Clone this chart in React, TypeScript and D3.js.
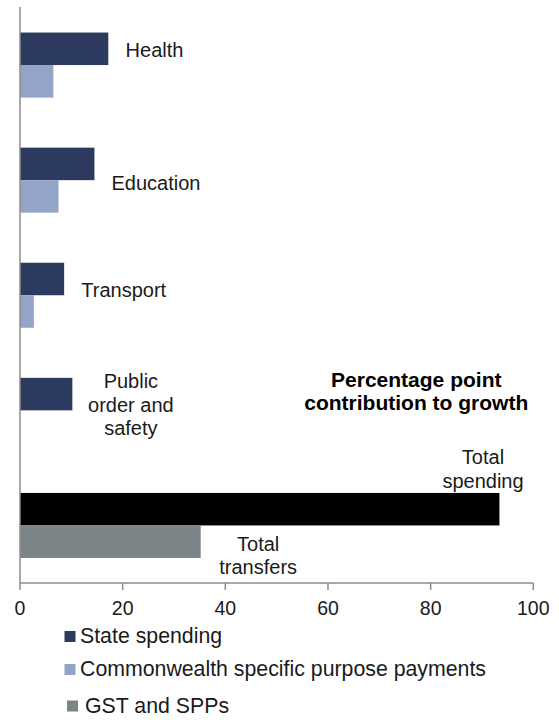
import React from "react";
import * as d3 from "d3";

const categories = ["Health", "Education", "Transport", "Public order and safety", "Total"];
const stateSpending = [17.2, 14.5, 8.6, 10.2, 93.4];
const commonwealthSPP = [6.5, 7.5, 2.7, 0, 35.2];
const xTicks = [0, 20, 40, 60, 80, 100];
const legendItems = ["State spending", "Commonwealth specific purpose payments", "GST and SPPs"];

const W = 559;
const H = 720;
const FONT = "'Liberation Sans', Arial, sans-serif";
const TEXT = "#1a1a1a";
const DARK = "#2b3a5e";
const LIGHT = "#94a3c8";
const GREY = "#7b8486";
const AXIS = "#8c8c8c";

export default function App() {
  const x = d3.scaleLinear().domain([0, 100]).range([20, 533.3]);
  const y = d3
    .scaleBand<string>()
    .domain(categories)
    .range([7.5, 583])
    .paddingInner(0.435)
    .paddingOuter(0.2175);
  const sub = d3.scaleBand<number>().domain([0, 1]).range([0, y.bandwidth()]);

  const bars: { key: string; x0: number; x1: number; y0: number; h: number; fill: string }[] = [];
  categories.forEach((c, i) => {
    const isTotal = c === "Total";
    const b = y(c) as number;
    const s = stateSpending[i];
    const cw = commonwealthSPP[i];
    bars.push({ key: c + "-s", x0: x(0), x1: x(s), y0: b + (sub(0) as number), h: sub.bandwidth(), fill: isTotal ? "#000000" : DARK });
    if (cw > 0)
      bars.push({ key: c + "-c", x0: x(0), x1: x(cw), y0: b + (sub(1) as number), h: sub.bandwidth(), fill: isTotal ? GREY : LIGHT });
  });

  const by = (c: string) => y(c) as number;

  const labels: { lines: string[]; xv: number; yOff: number; cat: string; bold?: boolean; size: number }[] = [
    { lines: ["Health"], xv: 26.2, yOff: 24.8, cat: "Health", size: 20 },
    { lines: ["Education"], xv: 26.5, yOff: 42.5, cat: "Education", size: 20 },
    { lines: ["Transport"], xv: 20.2, yOff: 34, cat: "Transport", size: 20 },
    { lines: ["Public", "order and", "safety"], xv: 21.6, yOff: 10.5, cat: "Public order and safety", size: 20 },
    { lines: ["Percentage point", "contribution to growth"], xv: 77.2, yOff: 9, cat: "Public order and safety", bold: true, size: 21 },
    { lines: ["Total", "spending"], xv: 90.2, yOff: -28.5, cat: "Total", size: 20 },
    { lines: ["Total", "transfers"], xv: 46.4, yOff: 58, cat: "Total", size: 20 },
  ];
  const legendColors = [DARK, LIGHT, GREY];

  return (
    <svg width={W} height={H} style={{ position: "absolute", left: 0, top: 0, background: "#fff" }} fontFamily={FONT}>
      <rect x={0} y={0} width={W} height={H} fill="#fff" />
      {bars.map((b) => (
        <rect key={b.key} x={b.x0} y={b.y0} width={b.x1 - b.x0} height={b.h} fill={b.fill} />
      ))}
      {/* axes */}
      <line x1={x(0)} x2={x(0)} y1={7} y2={583} stroke={AXIS} strokeWidth={1.5} />
      <line x1={x(0)} x2={x(100)} y1={583} y2={583} stroke={AXIS} strokeWidth={1.5} />
      {xTicks.map((t) => (
        <g key={t}>
          <line x1={x(t)} x2={x(t)} y1={583} y2={590} stroke={AXIS} strokeWidth={1.5} />
          <text x={x(t)} y={615} textAnchor="middle" fontSize={19.5} fill={TEXT}>
            {t}
          </text>
        </g>
      ))}
      {labels.map((l, i) => (
        <text
          key={i}
          x={x(l.xv)}
          y={by(l.cat) + l.yOff}
          textAnchor="middle"
          fontSize={l.size}
          fontWeight={l.bold ? "bold" : "normal"}
          fill={l.bold ? "#000" : TEXT}
        >
          {l.lines.map((ln, j) => (
            <tspan key={j} x={x(l.xv)} dy={j === 0 ? 0 : 23.4}>
              {ln}
            </tspan>
          ))}
        </text>
      ))}
      {legendItems.map((it, i) => {
        const ly = [643, 676, 712.5][i];
        const lx = i === 2 ? 67 : 64.5;
        return (
          <g key={it}>
            <rect x={lx} y={ly - 12} width={11} height={11} fill={legendColors[i]} />
            <text x={lx + 15.5 + (i === 2 ? 2.5 : 0)} y={ly} fontSize={21.3} fill={TEXT}>
              {it}
            </text>
          </g>
        );
      })}
    </svg>
  );
}
